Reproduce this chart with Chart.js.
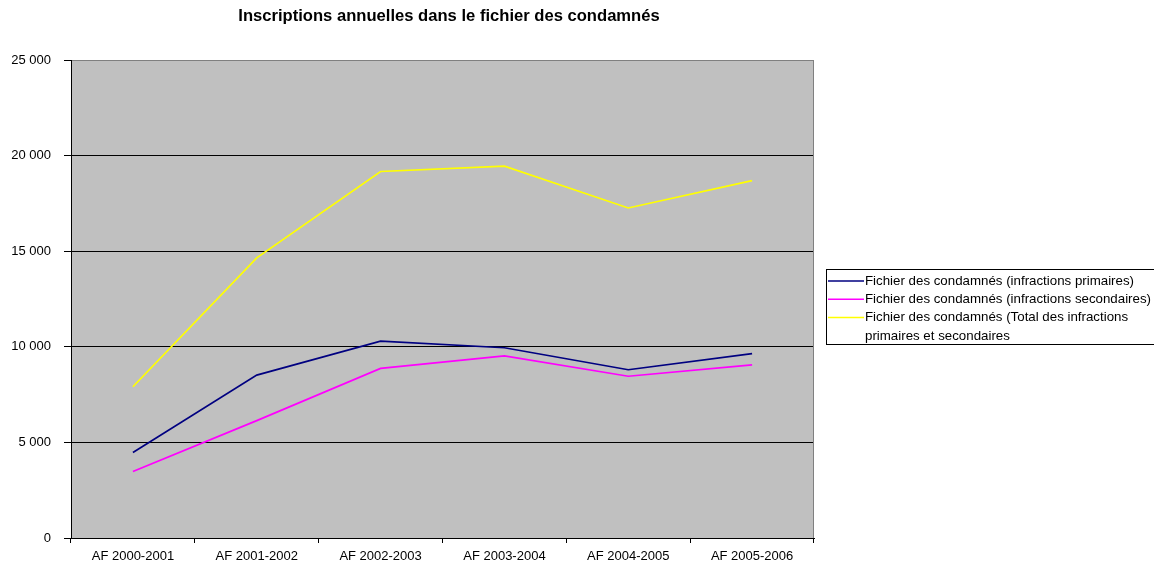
<!DOCTYPE html>
<html lang="fr">
<head>
<meta charset="utf-8">
<title>Inscriptions annuelles dans le fichier des condamnés</title>
<script src="https://cdn.jsdelivr.net/npm/chart.js@4/dist/chart.umd.min.js"></script>
<style>
  html, body { margin: 0; padding: 0; background: #fff; }
  canvas { display: block; }
</style>
</head>
<body>
<canvas id="chart" width="1154" height="564"></canvas>
<script>
// Exercices financiers
const categories = ['AF 2000-2001', 'AF 2001-2002', 'AF 2002-2003', 'AF 2003-2004', 'AF 2004-2005', 'AF 2005-2006'];

// Inscriptions par exercice
const primaires   = [4470, 8520, 10300, 9950, 8800, 9640];
const secondaires = [3480, 6140, 8870, 9530, 8460, 9050];
const totaux      = [7910, 14650, 19170, 19450, 17260, 18690];

const seriesNames = [
  'Fichier des condamnés (infractions primaires)',
  'Fichier des condamnés (infractions secondaires)',
  'Fichier des condamnés (Total des infractions primaires et secondaires'
];
const titleText = 'Inscriptions annuelles dans le fichier des condamnés';

// Graduations de l'axe vertical
const yMin = 0, yMax = 25000, yStep = 5000;

const FONT = '"Liberation Sans", Arial, Helvetica, sans-serif';

function formatThousands(v) {
  return String(v).replace(/\B(?=(\d{3})+(?!\d))/g, ' ');
}

// Fond gris de la zone de tracé et cadre
const plotFrame = {
  id: 'plotFrame',
  beforeDraw(chart) {
    const { ctx, chartArea: a } = chart;
    ctx.save();
    ctx.fillStyle = '#c0c0c0';
    ctx.fillRect(a.left, a.top, a.right - a.left, a.bottom - a.top);
    ctx.restore();
  },
  beforeDatasetsDraw(chart) {
    const { ctx, chartArea: a } = chart;
    ctx.save();
    ctx.strokeStyle = '#808080';
    ctx.lineWidth = 1;
    ctx.beginPath();
    ctx.moveTo(Math.round(a.right) - 0.5, a.top);
    ctx.lineTo(Math.round(a.right) - 0.5, a.bottom);
    ctx.stroke();
    ctx.restore();
  }
};

// Titre
const chartTitle = {
  id: 'chartTitle',
  afterDraw(chart) {
    const { ctx } = chart;
    ctx.save();
    ctx.font = 'bold 16.6px ' + FONT;
    ctx.fillStyle = '#000';
    ctx.textAlign = 'center';
    ctx.textBaseline = 'middle';
    ctx.fillText(titleText, 449, 16);
    ctx.restore();
  }
};

// Légende encadrée à droite, avec retour à la ligne
const boxLegend = {
  id: 'boxLegend',
  afterDraw(chart) {
    const { ctx } = chart;
    const box = { x: 826.5, y: 269.5, w: 340, h: 75 };
    const sampleX0 = 828, sampleX1 = 864, textX = 865;
    const rowH = 18.3, firstRow = 281, maxW = 292;
    ctx.save();
    ctx.fillStyle = '#fff';
    ctx.fillRect(box.x, box.y, box.w, box.h);
    ctx.strokeStyle = '#000';
    ctx.lineWidth = 1;
    ctx.strokeRect(box.x, box.y, box.w, box.h);
    ctx.font = '13.3px ' + FONT;
    ctx.textAlign = 'left';
    ctx.textBaseline = 'middle';
    let row = 0;
    chart.data.datasets.forEach(ds => {
      const words = ds.label.split(' ');
      const lines = [];
      let cur = '';
      words.forEach(w => {
        const test = cur ? cur + ' ' + w : w;
        if (ctx.measureText(test).width > maxW && cur) { lines.push(cur); cur = w; }
        else cur = test;
      });
      if (cur) lines.push(cur);
      const y = firstRow + row * rowH;
      ctx.strokeStyle = ds.borderColor;
      ctx.lineWidth = 1.5;
      ctx.beginPath();
      ctx.moveTo(sampleX0, y);
      ctx.lineTo(sampleX1, y);
      ctx.stroke();
      ctx.fillStyle = '#000';
      lines.forEach((ln, i) => ctx.fillText(ln, textX, y + i * rowH));
      row += lines.length;
    });
    ctx.restore();
  }
};

new Chart(document.getElementById('chart'), {
  type: 'line',
  data: {
    labels: categories,
    datasets: [
      { label: seriesNames[0], data: primaires,   borderColor: '#000080', backgroundColor: '#000080' },
      { label: seriesNames[1], data: secondaires, borderColor: '#ff00ff', backgroundColor: '#ff00ff' },
      { label: seriesNames[2], data: totaux,      borderColor: '#ffff00', backgroundColor: '#ffff00' }
    ]
  },
  options: {
    responsive: false,
    devicePixelRatio: 1,
    animation: false,
    layout: { padding: { top: 60, right: 340, left: 0, bottom: 0 } },
    elements: {
      line: { borderWidth: 1.7, tension: 0, fill: false },
      point: { radius: 0, hoverRadius: 0 }
    },
    plugins: {
      legend: { display: false },
      title: { display: false },
      tooltip: { enabled: false }
    },
    scales: {
      x: {
        type: 'category',
        offset: true,
        afterFit(scale) { scale.height = 26; },
        grid: {
          offset: true,
          drawOnChartArea: false,
          drawTicks: true,
          tickLength: 5,
          color: '#000',
          tickColor: '#000'
        },
        border: { display: true, color: '#000', width: 1 },
        ticks: {
          color: '#000',
          font: { family: FONT, size: 13 },
          padding: 6,
          maxRotation: 0,
          autoSkip: false
        }
      },
      y: {
        min: yMin,
        max: yMax,
        afterFit(scale) { scale.width = 71; },
        grid: {
          drawTicks: true,
          tickLength: 7,
          color: ctx => (ctx.tick && ctx.tick.value === yMax ? '#808080' : '#000'),
          tickColor: '#000',
          lineWidth: 1
        },
        border: { display: true, color: '#000', width: 1 },
        ticks: {
          stepSize: yStep,
          color: '#000',
          font: { family: FONT, size: 13 },
          padding: 13,
          callback: v => formatThousands(v)
        }
      }
    }
  },
  plugins: [plotFrame, chartTitle, boxLegend]
});
</script>
</body>
</html>
